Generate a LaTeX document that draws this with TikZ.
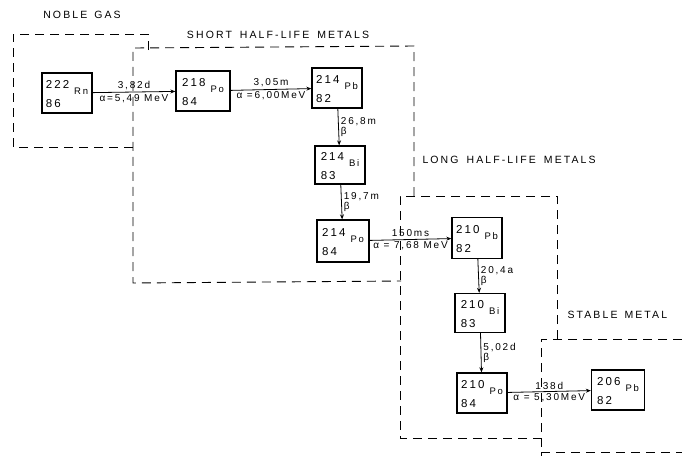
\documentclass[tikz,border=0pt]{standalone}
\usepackage{fontspec}
\setmainfont{Liberation Sans}[LetterSpace=18]
\usetikzlibrary{arrows.meta}

% nuclide: mass number, atomic number, symbol
\newcommand{\nuc}[3]{\raisebox{-3pt}[\height][\depth]{\begin{tabular}{@{}l@{\hspace{5pt}}l@{}}#1&\\[-2.5pt]&\smash{\raisebox{3.5pt}{\fontsize{9.5}{10}\selectfont #3}}\\[-2.5pt]#2&\end{tabular}}}

\begin{document}
\begin{tikzpicture}[x=1pt, y={(0,-1pt)}, >={Stealth[length=5pt,width=4pt]},
    nucbox/.style={draw, line width=1.3pt, minimum width=50pt, minimum height=40pt,
        inner sep=0pt, font=\fontsize{11.5}{12}\selectfont},
    decay/.style={->, line width=0.8pt},
    lbl/.style={font=\fontsize{10}{11}\selectfont, inner sep=2pt},
    zone/.style={line width=0.9pt, dash pattern=on 9pt off 6pt},
    zonename/.style={font=\fontsize{10.5}{12}\selectfont\addfontfeature{LetterSpace=20}}]
    \useasboundingbox (0,0) rectangle (682,456);

    % nuclides
    \node[nucbox] (rn222) at (67,93) {\nuc{222}{86}{Rn}};
    \node[nucbox, minimum width=54pt] (po218) at (203,91) {\nuc{218}{84}{Po}};
    \node[nucbox] (pb214) at (337,88) {\nuc{214}{82}{Pb}};
    \node[nucbox, minimum height=38pt] (bi214) at (340,165) {\nuc{214}{83}{Bi}};
    \node[nucbox, minimum width=52pt, minimum height=42pt] (po214) at (343,241) {\nuc{214}{84}{Po}};
    \node[nucbox, minimum height=41pt] (pb210) at (477,238) {\nuc{210}{82}{Pb}};
    \node[nucbox, minimum height=39pt] (bi210) at (480,313) {\nuc{210}{83}{Bi}};
    \node[nucbox] (po210) at (482,393) {\nuc{210}{84}{Po}};
    \node[nucbox, minimum width=53pt] (pb206) at (618,390) {\nuc{206}{82}{Pb}};

    % alpha decays
    \draw[decay] (rn222) -- (po218)
        node[lbl, midway, above] {3,82d} node[lbl, midway, below] {α=5,49 MeV};
    \draw[decay] (po218) -- (pb214)
        node[lbl, midway, above] {3,05m} node[lbl, midway, below] {α =6,00MeV};
    \draw[decay] (po214) -- (pb210)
        node[lbl, midway, above] {150ms} node[lbl, midway, below] {α = 7,68 MeV};
    \draw[decay] (po210) -- (pb206)
        node[lbl, midway, above] {138d} node[lbl, midway, below] {α = 5,30MeV};

    % beta decays
    \draw[decay] (pb214) -- (bi214)
        node[lbl, midway, right, align=left] {26,8m\\[-1pt]β};
    \draw[decay] (bi214) -- (po214)
        node[lbl, midway, right, align=left] {19,7m\\[-1pt]β};
    \draw[decay] (pb210) -- (bi210)
        node[lbl, midway, right, align=left] {20,4a\\[-1pt]β};
    \draw[decay] (bi210) -- (po210)
        node[lbl, midway, right, align=left] {5,02d\\[-1pt]β};

    % zones
    \draw[zone] (148,50) -- (148,34) -- (13,34) -- (13,147) -- (133,147);
    \draw[zone] (414,196) -- (414,46) -- (133,48) -- (133,283) -- (401,281);
    \draw[zone] (557,339) -- (557,196) -- (400,196) -- (400,438) -- (541,438);
    \draw[zone] (682,339) -- (541,339) -- (541,456);
    \draw[zone] (541,452) -- (682,452);

    \node[zonename] (noble) at (82,15) {NOBLE\hspace{7pt}GAS};
    \node[zonename] (short) at (278,35) {SHORT\hspace{3pt} HALF-LIFE\hspace{3pt} METALS};
    \node[zonename, anchor=west] (long) at (419,160) {LONG\hspace{3pt} HALF-LIFE\hspace{3pt} METALS};
    \node[zonename, anchor=west] (stable) at (564,315) {STABLE\hspace{2pt} METAL};
\end{tikzpicture}
\end{document}
